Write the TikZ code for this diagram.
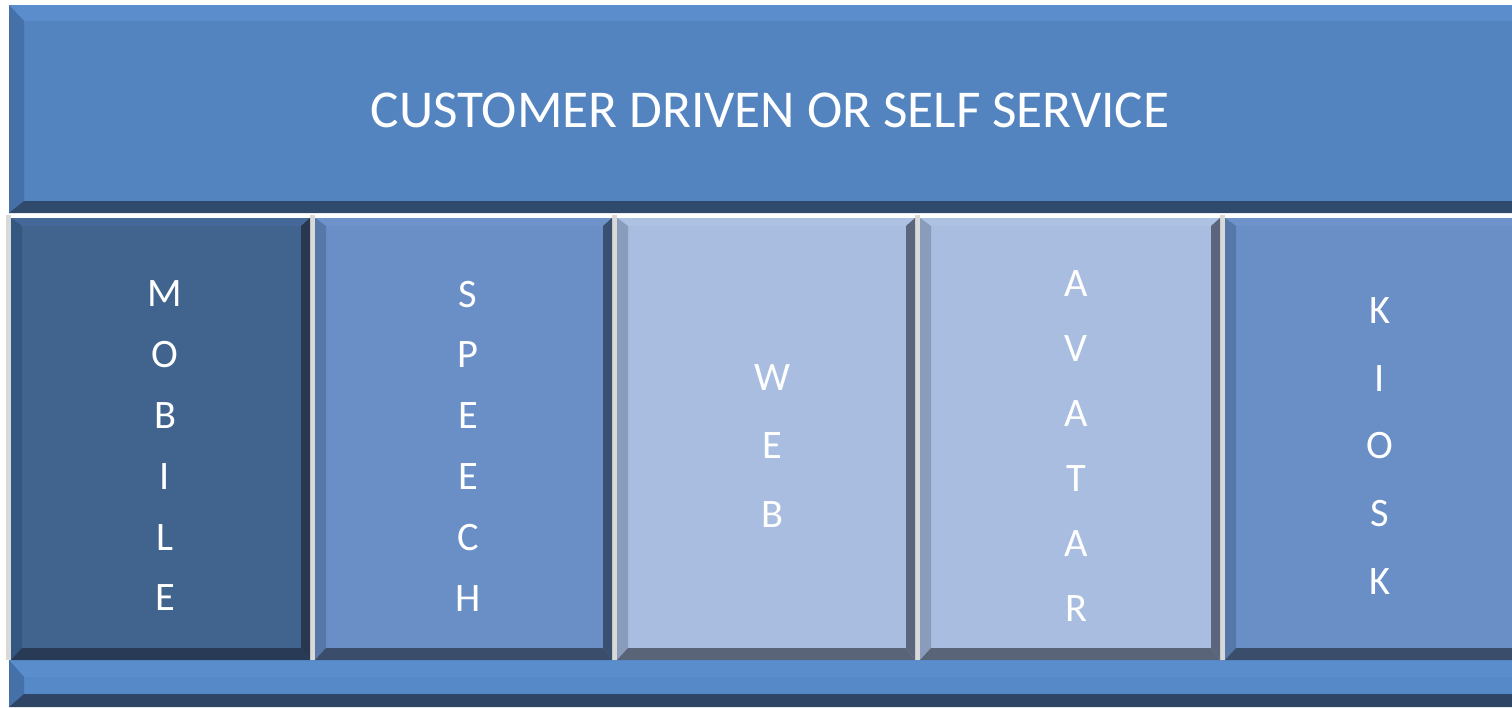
\documentclass[tikz,border=0pt]{standalone}
\usepackage{fontspec}
\setmainfont{Carlito}

% colours of the panels
\definecolor{bannerface}{HTML}{5384C0}
\definecolor{bannertop}{HTML}{5B8DCC}
\definecolor{bannerleft}{HTML}{4670A8}
\definecolor{bannerright}{HTML}{4670A8}
\definecolor{bannerbottom}{HTML}{2F4A6C}
\definecolor{footerface}{HTML}{5589C8}
\definecolor{footertop}{HTML}{5A8DCC}
\definecolor{footerleft}{HTML}{4670A8}
\definecolor{footerright}{HTML}{4670A8}
\definecolor{footerbottom}{HTML}{2F4566}
\definecolor{darkface}{HTML}{41648F}
\definecolor{darktop}{HTML}{44689A}
\definecolor{darkleft}{HTML}{34577F}
\definecolor{darkright}{HTML}{27384F}
\definecolor{darkbottom}{HTML}{283A55}
\definecolor{midface}{HTML}{6A8FC6}
\definecolor{midtop}{HTML}{6E93CA}
\definecolor{midleft}{HTML}{5678A8}
\definecolor{midright}{HTML}{3A5070}
\definecolor{midbottom}{HTML}{3A4E6C}
\definecolor{lightface}{HTML}{A9BDE0}
\definecolor{lighttop}{HTML}{ADC1E3}
\definecolor{lightleft}{HTML}{8A9CBB}
\definecolor{lightright}{HTML}{5A667C}
\definecolor{lightbottom}{HTML}{5A6478}
\definecolor{sepgray}{HTML}{D9D9D9}

% bevelled panel: colour prefix, x1/y1/x2/y2, top/left/right/bottom bevel
\newcommand{\bevelpanel}[3]{%
  \foreach \pxa/\pya/\pxb/\pyb in {#2}{%
    \foreach \tw/\lw/\rw/\bw in {#3}{%
      \fill[#1face] (\pxa,\pya) rectangle (\pxb,\pyb);
      \fill[#1top] (\pxa,\pya) -- (\pxb,\pya) -- (\pxb-\rw,\pya+\tw) -- (\pxa+\lw,\pya+\tw) -- cycle;
      \fill[#1left] (\pxa,\pya) -- (\pxa+\lw,\pya+\tw) -- (\pxa+\lw,\pyb-\bw) -- (\pxa,\pyb) -- cycle;
      \fill[#1right] (\pxb,\pya) -- (\pxb,\pyb) -- (\pxb-\rw,\pyb-\bw) -- (\pxb-\rw,\pya+\tw) -- cycle;
      \fill[#1bottom] (\pxa,\pyb) -- (\pxb,\pyb) -- (\pxb-\rw,\pyb-\bw) -- (\pxa+\lw,\pyb-\bw) -- cycle;
    }}}

\begin{document}
\begin{tikzpicture}[x=0.02cm, y=-0.02cm,
    txt/.style={text=white, inner sep=0pt},
    vtxt/.style={txt, align=center}]
  \useasboundingbox (0,0) rectangle (1512,707);
  \clip (0,0) rectangle (1512,707);

  % Panels
  \bevelpanel{banner}{9/5/1530/213}{16/15/0/12}
  \bevelpanel{footer}{9/660/1530/707}{17/15/0/13}

  % Separators
  \foreach \sx in {6,310,612,915,1220}
    \fill[sepgray] (\sx,215) rectangle (\sx+5,660);

  % Columns
  \foreach \ca/\cb/\cx/\tone/\cname/\word/\pitch in {
      11/310/165/dark/mobile/{M\\O\\B\\I\\L\\E}/34.6,
      315/612/468/mid/speech/{S\\P\\E\\E\\C\\H}/34.6,
      617/915/772/light/web/{W\\E\\B}/39.1,
      920/1220/1076/light/avatar/{A\\V\\A\\T\\A\\R}/36.9,
      1225/1530/1380/mid/kiosk/{K\\I\\O\\S\\K}/38.6}{
    \bevelpanel{\tone}{\ca/218/\cb/660}{8/11/9/12}
    \node[vtxt, font=\fontsize{23}{\pitch}\selectfont] (\cname) at (\cx,446) {\word};
  }

  % Title
  \node[txt, font=\fontsize{30.3}{36}\selectfont] (title) at (770,110) {CUSTOMER DRIVEN OR SELF SERVICE};
\end{tikzpicture}
\end{document}
